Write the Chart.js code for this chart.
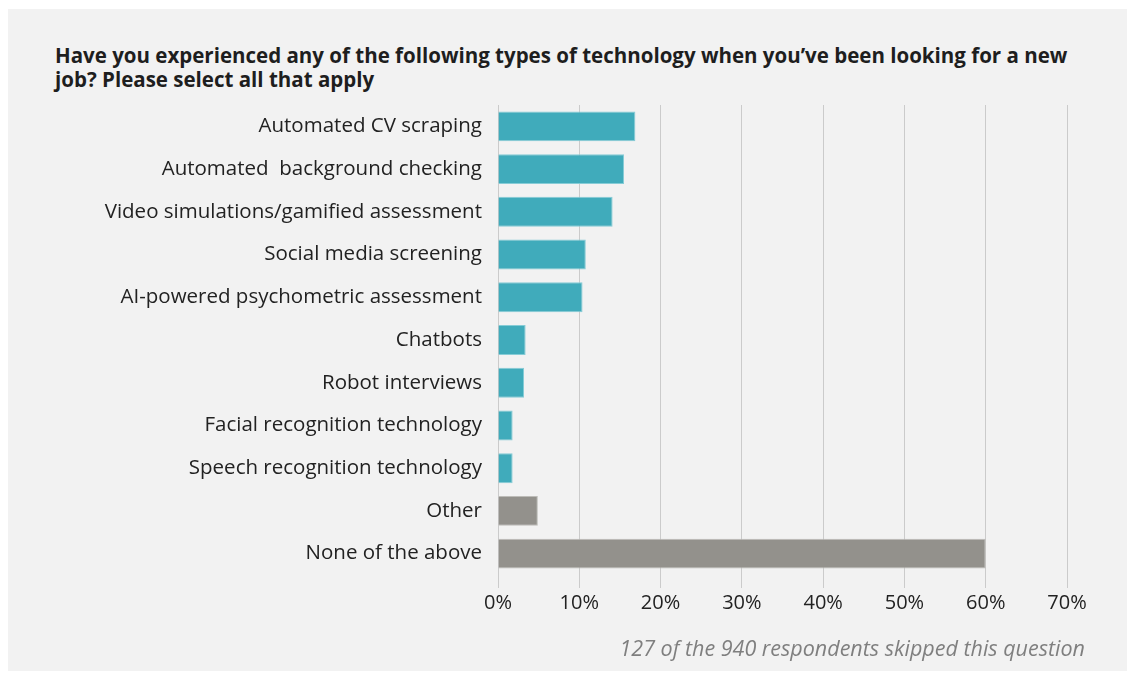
<html>

<head>
    <script src="https://cdn.jsdelivr.net/npm/chart.js"></script>
    <style>
        body { margin: 0; background: #fff; }
        #panel { position: absolute; left: 8px; top: 9px; width: 1119px; height: 662px; background: #f2f2f2; }
        #chart_id { position: absolute; left: 0; top: 0; }
        #title { position: absolute; left: 47px; top: 34px; font: bold 20.5px "Open Sans"; line-height: 24px; color: #1e1e1e; white-space: nowrap; }
        #note { position: absolute; right: 42px; top: 627px; font: italic 21.5px "Open Sans"; line-height: 24px; color: #7f7f7f; }
    </style>
</head>

<body>
    <div id="panel">
        <div id="title">Have you experienced any of the following types of technology when you’ve been looking for a new<br>job? Please select all that apply</div>
        <canvas id="chart_id" width="1119" height="662"></canvas>
        <div id="note">127 of the 940 respondents skipped this question</div>
    </div>
    <script>
        // 응답 항목과 비율(%)
        const categories = [
            'Automated CV scraping',
            'Automated  background checking',
            'Video simulations/gamified assessment',
            'Social media screening',
            'AI-powered psychometric assessment',
            'Chatbots',
            'Robot interviews',
            'Facial recognition technology',
            'Speech recognition technology',
            'Other',
            'None of the above'
        ];
        const shares = [16.9, 15.5, 14.1, 10.8, 10.4, 3.4, 3.2, 1.8, 1.8, 4.9, 60];
        // 기술 항목은 청록, 기타/해당없음은 회색
        const groups = ['tech', 'tech', 'tech', 'tech', 'tech', 'tech', 'tech', 'tech', 'tech', 'rest', 'rest'];
        const xTicks = [0, 10, 20, 30, 40, 50, 60, 70];

        const fill = { tech: '#40abbb', rest: '#93918c' };
        const edge = { tech: '#86ccd6', rest: '#bdbcb8' };

        new Chart(document.getElementById('chart_id'), {
            type: 'bar',
            data: {
                labels: categories,
                datasets: [{
                    data: shares,
                    backgroundColor: groups.map(g => fill[g]),
                    borderColor: groups.map(g => edge[g]),
                    borderWidth: 1,
                    categoryPercentage: 0.7,
                    barPercentage: 1
                }]
            },
            options: {
                indexAxis: 'y',
                responsive: false,
                animation: false,
                layout: { padding: { left: 40, right: 60, top: 96, bottom: 50 } },
                plugins: { legend: { display: false }, tooltip: { enabled: false } },
                scales: {
                    x: {
                        min: 0,
                        max: 70,
                        afterBuildTicks: scale => { scale.ticks = xTicks.map(v => ({ value: v })); },
                        afterFit: scale => { scale.height = 46; },
                        border: { display: false },
                        grid: { color: '#cbcbcb', lineWidth: 1, tickLength: 13, drawTicks: true },
                        ticks: {
                            callback: v => v + '%',
                            color: '#222',
                            padding: 3,
                            maxRotation: 0,
                            font: { family: 'Open Sans', size: 20 }
                        }
                    },
                    y: {
                        afterFit: scale => { scale.width = 450; },
                        border: { display: false },
                        grid: { display: false },
                        ticks: {
                            color: '#222',
                            padding: 8,
                            font: { family: 'Open Sans', size: 20.5 }
                        }
                    }
                }
            }
        });
    </script>
</body>

</html>
